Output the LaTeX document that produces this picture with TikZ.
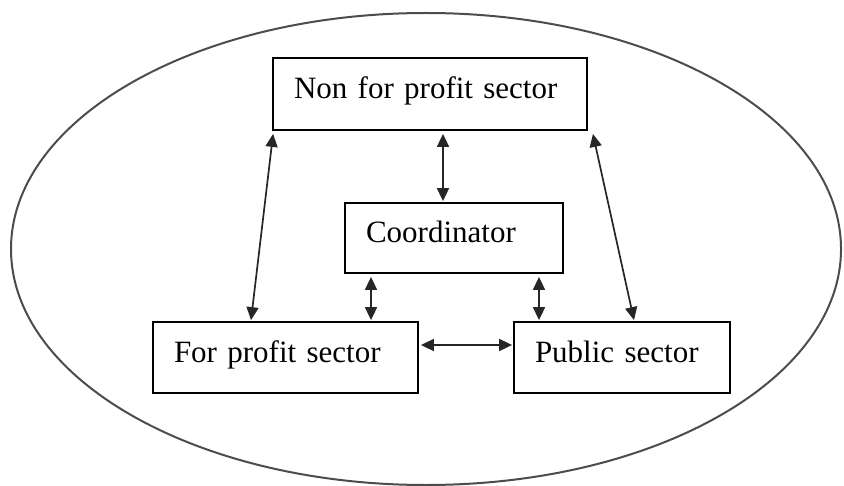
\documentclass[tikz,border=0pt]{standalone}
\usepackage{fontspec}
\setmainfont{Liberation Serif}
\usepackage{tikz}
\usetikzlibrary{positioning,arrows.meta,calc}

\begin{document}
\begin{tikzpicture}[x=0.5pt, y=-0.5pt, >={Triangle[length=6.5pt,width=6pt]},
    box/.style={draw, line width=0.9pt, align=left, inner xsep=10.5pt, text height=0.7em, text depth=0.22em, font=\fontsize{15.5}{18}\selectfont},
    link/.style={<->, line width=0.85pt, black!85}]
    \useasboundingbox (0,0) rectangle (844,486);

    % Outer ellipse
    \draw[line width=1pt, black!70] (426,249) ellipse [x radius=415, y radius=236];

    % Sectors
    \node[box, text width=136pt, minimum height=36pt] (nfp) at (430,94) {Non for profit sector};
    \node[box, text width=88pt, minimum height=35pt] (coord) at (454,238) {Coordinator};
    \node[box, text width=111.5pt, minimum height=35.5pt] (fp) at (285.5,357.5) {For profit sector};
    \node[box, text width=87pt, minimum height=35.5pt] (pub) at (622,357.5) {Public sector};

    % Links
    \draw[link] ($(nfp.south)+(13,3)$) -- ($(coord.north)+(-11,-1)$);
    \draw[link] ($(nfp.south west)+(1,3)$) -- ($(fp.north)+(-34.5,-1)$);
    \draw[link] ($(nfp.south east)+(5,3)$) -- ($(pub.north)+(12,-1)$);
    \draw[link] ($(coord.south)+(-83,3)$) -- ($(fp.north)+(85.5,-1)$);
    \draw[link] ($(coord.south)+(85,3)$) -- ($(pub.north)+(-83,-1)$);
    \draw[link] ($(fp.east)+(2,-12.5)$) -- ($(pub.west)+(-1,-12.5)$);
\end{tikzpicture}
\end{document}
